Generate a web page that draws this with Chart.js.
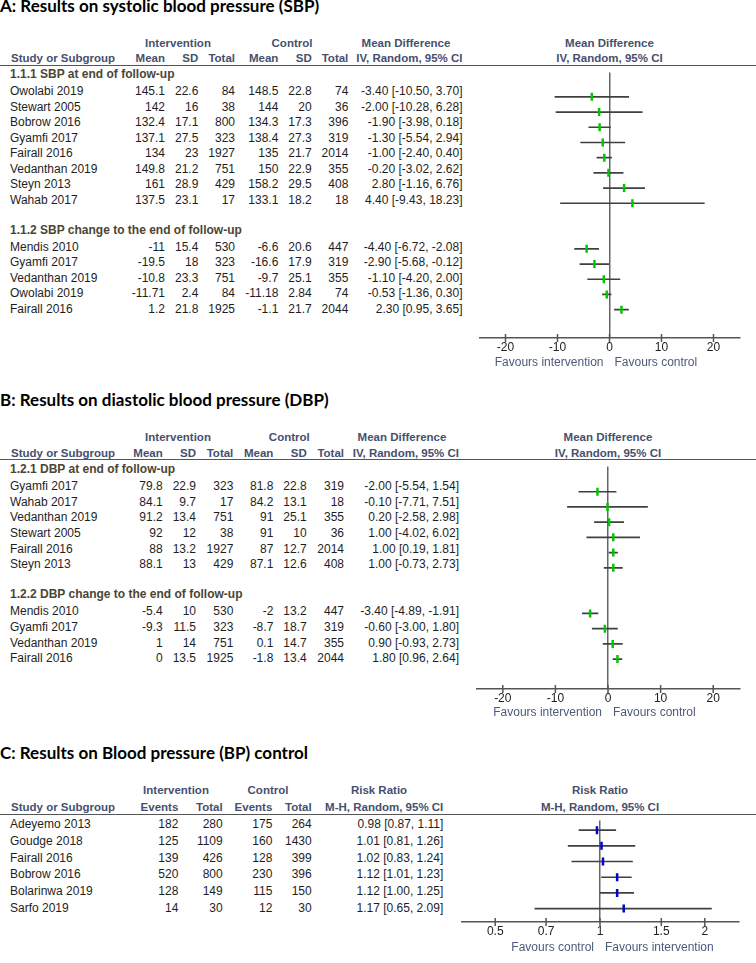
<!DOCTYPE html>
<html>
<head>
<meta charset="utf-8">
<script src="https://cdn.jsdelivr.net/npm/chart.js@4.4.1/dist/chart.umd.min.js"></script>
<style>
  body { margin: 0; background: #fff; }
  #page { position: relative; width: 756px; height: 963px; overflow: hidden;
          font-family: "Liberation Sans", Arial, sans-serif; font-size: 12px; color: #1e1e1e; }
  .t { position: absolute; white-space: nowrap; line-height: 14px; }
  .h { font-weight: bold; font-size: 11.5px; color: #46506e; }
  .g { font-weight: bold; font-size: 12px; color: #4b4535; margin-top: -1.5px; }
  .title { font-family: Lato, sans-serif; font-weight: bold; font-size: 17px; color: #000; line-height: 20px; }
  .fav { color: #4e5a7a; }
  .rule { position: absolute; left: 0; width: 756px; height: 0; border-top: 1.5px solid #555; }
  canvas { position: absolute; }
</style>
</head>
<body>
<div id="page"></div>
<script>
// A: systolic blood pressure
const sbpGroups = ["1.1.1 SBP at end of follow-up", "1.1.2 SBP change to the end of follow-up"];
const sbpGroupSize = [8, 5];
const sbpStudies = ["Owolabi 2019", "Stewart 2005", "Bobrow 2016", "Gyamfi 2017", "Fairall 2016", "Vedanthan 2019", "Steyn 2013", "Wahab 2017",
                    "Mendis 2010", "Gyamfi 2017", "Vedanthan 2019", "Owolabi 2019", "Fairall 2016"];
const sbpIntMean = [145.1, 142, 132.4, 137.1, 134, 149.8, 161, 137.5, -11, -19.5, -10.8, -11.71, 1.2];
const sbpIntSD   = [22.6, 16, 17.1, 27.5, 23, 21.2, 28.9, 23.1, 15.4, 18, 23.3, 2.4, 21.8];
const sbpIntN    = [84, 38, 800, 323, 1927, 751, 429, 17, 530, 323, 751, 84, 1925];
const sbpCtlMean = [148.5, 144, 134.3, 138.4, 135, 150, 158.2, 133.1, -6.6, -16.6, -9.7, -11.18, -1.1];
const sbpCtlSD   = [22.8, 20, 17.3, 27.3, 21.7, 22.9, 29.5, 18.2, 20.6, 17.9, 25.1, 2.84, 21.7];
const sbpCtlN    = [74, 36, 396, 319, 2014, 355, 408, 18, 447, 319, 355, 74, 2044];
const sbpMD = [-3.40, -2.00, -1.90, -1.30, -1.00, -0.20, 2.80, 4.40, -4.40, -2.90, -1.10, -0.53, 2.30];
const sbpLo = [-10.50, -10.28, -3.98, -5.54, -2.40, -3.02, -1.16, -9.43, -6.72, -5.68, -4.20, -1.36, 0.95];
const sbpHi = [3.70, 6.28, 0.18, 2.94, 0.40, 2.62, 6.76, 18.23, -2.08, -0.12, 2.00, 0.30, 3.65];

// B: diastolic blood pressure
const dbpGroups = ["1.2.1 DBP at end of follow-up", "1.2.2 DBP change to the end of follow-up"];
const dbpGroupSize = [6, 4];
const dbpStudies = ["Gyamfi 2017", "Wahab 2017", "Vedanthan 2019", "Stewart 2005", "Fairall 2016", "Steyn 2013",
                    "Mendis 2010", "Gyamfi 2017", "Vedanthan 2019", "Fairall 2016"];
const dbpIntMean = [79.8, 84.1, 91.2, 92, 88, 88.1, -5.4, -9.3, 1, 0];
const dbpIntSD   = [22.9, 9.7, 13.4, 12, 13.2, 13, 10, 11.5, 14, 13.5];
const dbpIntN    = [323, 17, 751, 38, 1927, 429, 530, 323, 751, 1925];
const dbpCtlMean = [81.8, 84.2, 91, 91, 87, 87.1, -2, -8.7, 0.1, -1.8];
const dbpCtlSD   = [22.8, 13.1, 25.1, 10, 12.7, 12.6, 13.2, 18.7, 14.7, 13.4];
const dbpCtlN    = [319, 18, 355, 36, 2014, 408, 447, 319, 355, 2044];
const dbpMD = [-2.00, -0.10, 0.20, 1.00, 1.00, 1.00, -3.40, -0.60, 0.90, 1.80];
const dbpLo = [-5.54, -7.71, -2.58, -4.02, 0.19, -0.73, -4.89, -3.00, -0.93, 0.96];
const dbpHi = [1.54, 7.51, 2.98, 6.02, 1.81, 2.73, -1.91, 1.80, 2.73, 2.64];

// C: blood pressure control
const bpcStudies = ["Adeyemo 2013", "Goudge 2018", "Fairall 2016", "Bobrow 2016", "Bolarinwa 2019", "Sarfo 2019"];
const bpcIntEvents = [182, 125, 139, 520, 128, 14];
const bpcIntTotal  = [280, 1109, 426, 800, 149, 30];
const bpcCtlEvents = [175, 160, 128, 230, 115, 12];
const bpcCtlTotal  = [264, 1430, 399, 396, 150, 30];
const bpcRR = [0.98, 1.01, 1.02, 1.12, 1.12, 1.17];
const bpcLo = [0.87, 0.81, 0.83, 1.01, 1.00, 0.65];
const bpcHi = [1.11, 1.26, 1.24, 1.23, 1.25, 2.09];

const mdTicks = [-20, -10, 0, 10, 20];
const rrTicks = [0.5, 0.7, 1, 1.5, 2];

const page = document.getElementById("page");

function put(text, x, y, align, cls) {
  const d = document.createElement("div");
  d.className = "t " + (cls || "");
  d.textContent = text;
  if (align === "right") {
    d.style.right = (756 - x) + "px";
  } else if (align === "center") {
    d.style.left = (x - 200) + "px";
    d.style.width = "400px";
    d.style.textAlign = "center";
  } else {
    d.style.left = x + "px";
  }
  d.style.top = (y - (cls === "title" ? 10.5 : 7)) + "px";
  page.appendChild(d);
}

function rule(y) {
  const d = document.createElement("div");
  d.className = "rule";
  d.style.top = (y - 0.75) + "px";
  page.appendChild(d);
}

// row index of every heading and study, with a blank row between groups
function buildRows(groupSize) {
  const heads = [], rows = [];
  let r = 0;
  groupSize.forEach((n, g) => {
    if (g > 0) r++;
    heads.push(r++);
    for (let k = 0; k < n; k++) rows.push(r++);
  });
  return { heads, rows };
}

const tickMarks = {
  id: "tickMarks",
  afterDraw(chart) {
    const xs = chart.scales.x, ctx = chart.ctx, y = chart.chartArea.bottom;
    ctx.save();
    ctx.strokeStyle = "#555";
    ctx.lineWidth = 1.5;
    xs.ticks.forEach(t => {
      const px = xs.getPixelForValue(t.value);
      ctx.beginPath();
      ctx.moveTo(px, y - 4);
      ctx.lineTo(px, y + 4);
      ctx.stroke();
    });
    ctx.restore();
  }
};

function forest(L, est, lo, hi, rows, color) {
  const top = Math.round(L.ruleY), bottom = Math.round(L.axisY);
  const canvas = document.createElement("canvas");
  canvas.width = L.plotR - L.plotL;
  canvas.height = bottom - top + 24;
  canvas.style.left = L.plotL + "px";
  canvas.style.top = top + "px";
  page.appendChild(canvas);

  const log = L.scale === "logarithmic";
  const ref = log ? 1 : 0;
  new Chart(canvas.getContext("2d"), {
    type: "bar",
    data: {
      datasets: [
        {
          type: "scatter",
          data: est.map((v, i) => ({ x: v, y: rows[i] })),
          pointStyle: "line",
          rotation: 90,
          radius: 4,
          hoverRadius: 4,
          borderWidth: 2.5,
          borderColor: color,
          backgroundColor: color
        },
        {
          type: "bar",
          data: lo.map((v, i) => ({ x: [v, hi[i]], y: rows[i] })),
          backgroundColor: "#404040",
          borderWidth: 0,
          barThickness: 1
        }
      ]
    },
    options: {
      indexAxis: "y",
      responsive: false,
      animation: false,
      events: [],
      layout: { padding: 0 },
      plugins: { legend: { display: false }, tooltip: { enabled: false } },
      scales: {
        y: {
          type: "linear",
          display: false,
          offset: false,
          reverse: true,
          min: (top - L.rowY0) / L.pitch,
          max: (bottom - L.rowY0) / L.pitch
        },
        x: {
          type: L.scale,
          min: L.min,
          max: L.max,
          offset: false,
          afterFit: s => { s.height = 24; },
          afterBuildTicks: s => { s.ticks = L.ticks.map(v => ({ value: v })); },
          border: { display: true, color: "#555", width: 1.5 },
          grid: {
            drawTicks: false,
            lineWidth: 1.5,
            color: c => (c.tick && c.tick.value === ref ? "#666" : "rgba(0,0,0,0)")
          },
          ticks: {
            autoSkip: false,
            maxRotation: 0,
            padding: 2,
            color: "#222",
            font: { family: "Liberation Sans", size: 12 },
            callback: v => String(v)
          }
        }
      }
    },
    plugins: [tickMarks]
  });

  // pixel of the reference line, for the headings and the favours labels
  const w = L.plotR - L.plotL;
  const f = log ? Math.log(ref / L.min) / Math.log(L.max / L.min) : (ref - L.min) / (L.max - L.min);
  return L.plotL + f * w;
}

function ciText(e, l, h) {
  return e.toFixed(2) + " [" + l.toFixed(2) + ", " + h.toFixed(2) + "]";
}

function mdPanel(L, groups, groupSize, names, cols, md, lo, hi) {
  put(L.title, 0, L.titleY, "left", "title");
  put("Intervention", L.intCenter, L.h1Y, "center", "h");
  put("Control", L.ctlCenter, L.h1Y, "center", "h");
  put("Mean Difference", L.effCenter, L.h1Y, "center", "h");
  put("Study or Subgroup", 11, L.h2Y, "left", "h");
  ["Mean", "SD", "Total", "Mean", "SD", "Total"].forEach((s, k) => put(s, L.cols[k], L.h2Y, "right", "h"));
  put("IV, Random, 95% CI", L.ciRight, L.h2Y, "right", "h");
  rule(L.ruleY);

  const { heads, rows } = buildRows(groupSize);
  const zero = forest(L, md, lo, hi, rows, "#00c800");
  put("Mean Difference", zero, L.h1Y, "center", "h");
  put("IV, Random, 95% CI", zero, L.h2Y, "center", "h");

  heads.forEach((r, g) => put(groups[g], 10, L.rowY0 + r * L.pitch, "left", "g"));
  names.forEach((n, i) => {
    const y = L.rowY0 + rows[i] * L.pitch;
    put(n, 10, y, "left");
    cols.forEach((arr, k) => put(String(arr[i]), L.cols[k], y, "right"));
    put(ciText(md[i], lo[i], hi[i]), L.ciRight, y, "right");
  });
  put("Favours intervention", zero - 6, L.favY, "right", "fav");
  put("Favours control", zero + 5, L.favY, "left", "fav");
}

mdPanel({
  title: "A: Results on systolic blood pressure (SBP)", titleY: 6.5,
  h1Y: 42.7, h2Y: 58.3, ruleY: 65.5, rowY0: 75.4, pitch: 15.57, axisY: 337.7, favY: 361.7,
  cols: [165, 198.3, 235, 278.3, 311.7, 348.3], ciRight: 462.5,
  intCenter: 178, ctlCenter: 292, effCenter: 406,
  plotL: 473, plotR: 746, scale: "linear", min: -25, max: 25, ticks: mdTicks
}, sbpGroups, sbpGroupSize, sbpStudies,
  [sbpIntMean, sbpIntSD, sbpIntN, sbpCtlMean, sbpCtlSD, sbpCtlN], sbpMD, sbpLo, sbpHi);

mdPanel({
  title: "B: Results on diastolic blood pressure (DBP)", titleY: 400,
  h1Y: 436.7, h2Y: 452.7, ruleY: 460, rowY0: 470.3, pitch: 15.66, axisY: 689, favY: 711.7,
  cols: [162.7, 196, 233.3, 273.3, 306.7, 344], ciRight: 459,
  intCenter: 178, ctlCenter: 289.3, effCenter: 402,
  plotL: 470, plotR: 746, scale: "linear", min: -25, max: 25, ticks: mdTicks
}, dbpGroups, dbpGroupSize, dbpStudies,
  [dbpIntMean, dbpIntSD, dbpIntN, dbpCtlMean, dbpCtlSD, dbpCtlN], dbpMD, dbpLo, dbpHi);

// C: risk ratio panel
(function () {
  const L = {
    title: "C: Results on Blood pressure (BP) control", titleY: 753.3,
    h1Y: 790, h2Y: 806.7, ruleY: 814.3, rowY0: 824.3, pitch: 16.68, axisY: 921.7, favY: 946.7,
    cols: [178.3, 222.7, 272.3, 311.7], ciRight: 443.3,
    plotL: 455, plotR: 745, scale: "logarithmic", min: 0.4, max: 2.5, ticks: rrTicks
  };
  put(L.title, 0, L.titleY, "left", "title");
  put("Intervention", 176, L.h1Y, "center", "h");
  put("Control", 268, L.h1Y, "center", "h");
  put("Risk Ratio", 379, L.h1Y, "center", "h");
  put("Study or Subgroup", 11, L.h2Y, "left", "h");
  ["Events", "Total", "Events", "Total"].forEach((s, k) => put(s, L.cols[k], L.h2Y, "right", "h"));
  put("M-H, Random, 95% CI", L.ciRight, L.h2Y, "right", "h");
  rule(L.ruleY);

  const rows = bpcStudies.map((s, i) => i);
  const one = forest(L, bpcRR, bpcLo, bpcHi, rows, "#0000d0");
  put("Risk Ratio", one, L.h1Y, "center", "h");
  put("M-H, Random, 95% CI", one, L.h2Y, "center", "h");

  const cols = [bpcIntEvents, bpcIntTotal, bpcCtlEvents, bpcCtlTotal];
  bpcStudies.forEach((n, i) => {
    const y = L.rowY0 + rows[i] * L.pitch;
    put(n, 10, y, "left");
    cols.forEach((arr, k) => put(String(arr[i]), L.cols[k], y, "right"));
    put(ciText(bpcRR[i], bpcLo[i], bpcHi[i]), L.ciRight, y, "right");
  });
  put("Favours control", one - 6, L.favY, "right", "fav");
  put("Favours intervention", one + 5, L.favY, "left", "fav");
})();
</script>
</body>
</html>
